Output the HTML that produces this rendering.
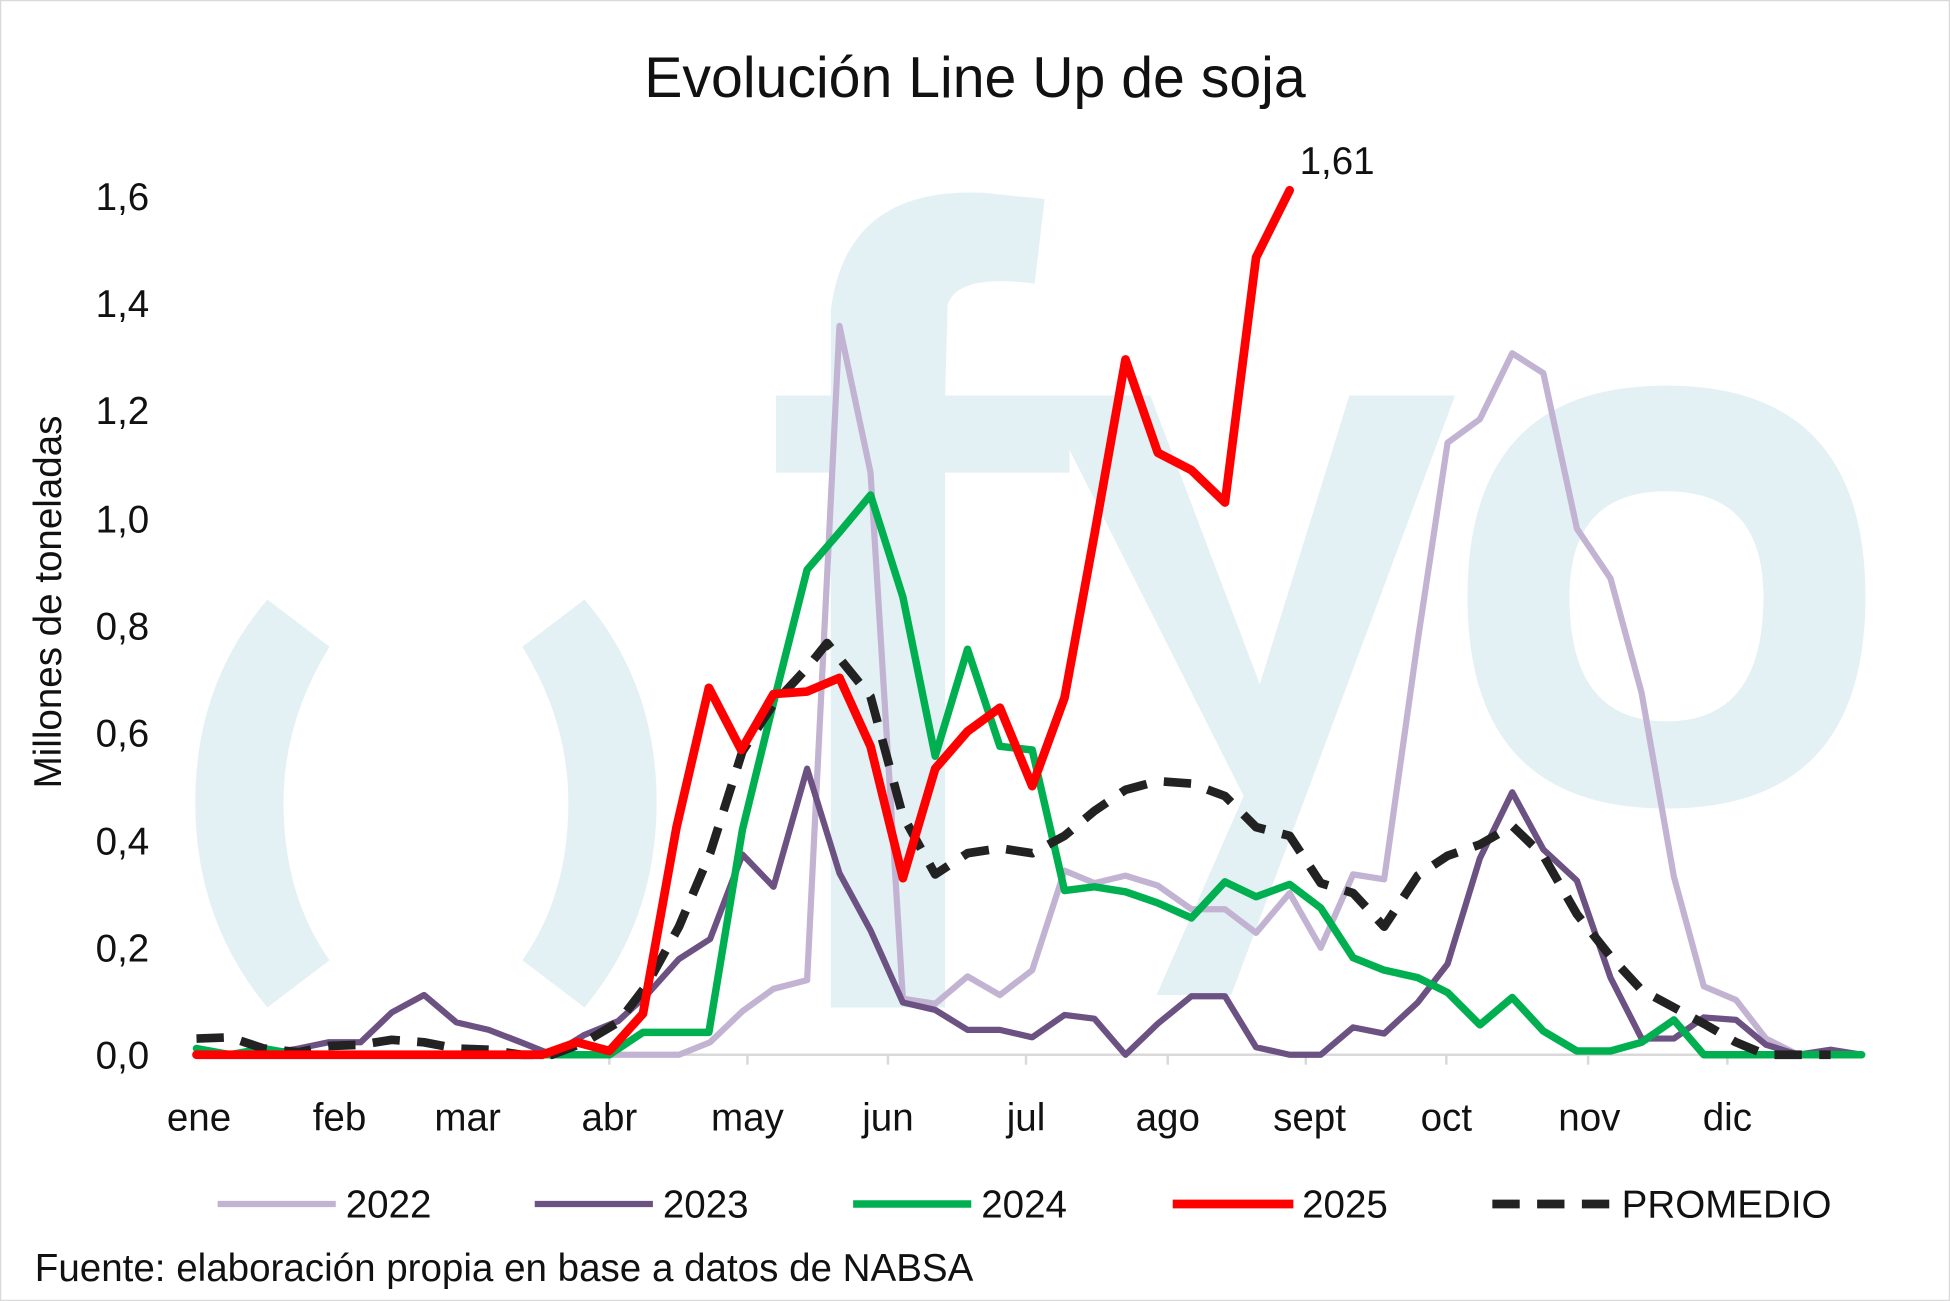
<!DOCTYPE html>
<html><head><meta charset="utf-8"><style>
html,body{margin:0;padding:0;background:#fff;}
svg{display:block;}
text{font-family:"Liberation Sans",sans-serif;}
</style></head><body>
<svg width="1950" height="1301" viewBox="0 0 1568 1046" preserveAspectRatio="none" xmlns="http://www.w3.org/2000/svg">
<rect x="0.5" y="0.5" width="1567" height="1045" fill="#fff" stroke="#d9d9d9"/>
<g fill="#e3f1f5" stroke="none">
<path d="M215,482 L265,520 Q228,580 228,645 Q228,720 265,772 L215,810 Q157,740 157,645 Q157,550 215,482 Z"/>
<path d="M470,482 L420,520 Q457,580 457,645 Q457,720 420,772 L470,810 Q528,740 528,645 Q528,550 470,482 Z"/>
<path d="M668,810 L668,380 L624,380 L624,318 L668,318 L668,250 Q680,150 790,155 L840,160 L832,228 Q770,220 762,245 L760,318 L860,318 L860,380 L760,380 L760,810 Z"/>
<path d="M838,318 L925,318 L1013,550 L1085,318 L1170,318 L1050,640 L990,800 L930,800 L1000,640 Z"/>
<path fill-rule="evenodd" d="M1340,310 Q1500,310 1500,480 Q1500,650 1340,650 Q1180,650 1180,480 Q1180,310 1340,310 Z M1340,395 Q1262,395 1262,480 Q1262,580 1340,580 Q1418,580 1418,480 Q1418,395 1340,395 Z"/>
</g>
<text x="784" y="78" font-size="46" text-anchor="middle" fill="#111">Evolución Line Up de soja</text>
<g font-size="31" fill="#111" text-anchor="end">
<text x="120" y="859">0,0</text><text x="120" y="773">0,2</text><text x="120" y="687">0,4</text><text x="120" y="600">0,6</text><text x="120" y="514">0,8</text><text x="120" y="428">1,0</text><text x="120" y="341">1,2</text><text x="120" y="255">1,4</text><text x="120" y="169">1,6</text>
</g>
<text transform="translate(49,484) rotate(-90)" font-size="31" text-anchor="middle" fill="#111">Millones de toneladas</text>
<line x1="158" y1="848" x2="1497" y2="848" stroke="#d9d9d9" stroke-width="2"/>
<g stroke="#d9d9d9" stroke-width="2">
<line x1="490" y1="848" x2="490" y2="856"/><line x1="601" y1="848" x2="601" y2="856"/><line x1="714" y1="848" x2="714" y2="856"/><line x1="825" y1="848" x2="825" y2="856"/><line x1="939" y1="848" x2="939" y2="856"/><line x1="1050" y1="848" x2="1050" y2="856"/><line x1="1163" y1="848" x2="1163" y2="856"/><line x1="1277" y1="848" x2="1277" y2="856"/><line x1="1389" y1="848" x2="1389" y2="856"/>
</g>
<g font-size="31" fill="#111" text-anchor="middle">
<text x="160" y="909">ene</text><text x="273" y="909">feb</text><text x="376" y="909">mar</text><text x="490" y="909">abr</text><text x="601" y="909">may</text><text x="714" y="909">jun</text><text x="825" y="909">jul</text><text x="939" y="909">ago</text><text x="1053" y="909">sept</text><text x="1163" y="909">oct</text><text x="1278" y="909">nov</text><text x="1389" y="909">dic</text>
</g>
<g fill="none" stroke-linejoin="round" stroke-linecap="round">
<polyline stroke="#c3b3d3" stroke-width="5" points="158,848 520,848 546,848 571,838 597,813 622,795 649,788 675,262 700,380 726,803 752,807 778,785 804,800 830,780 856,700 880,710 905,704 931,712 958,731 985,731 1010,750 1037,718 1062,762 1088,703 1113,707 1140,515 1164,356 1190,337 1216,284 1241,300 1268,425 1295,465 1320,557 1346,705 1370,793 1396,804 1420,835 1446,848 1497,848"/>
<polyline stroke="#6c5282" stroke-width="5" points="158,848 185,848 212,848 240,843 264,838 290,838 315,814 341,800 367,822 393,828 419,838 444,848 470,832 497,821 520,800 546,771 571,755 597,687 622,713 649,618 675,702 700,748 726,806 752,812 778,828 804,828 830,834 856,816 880,819 905,848 931,823 958,801 985,801 1010,842 1037,848 1062,848 1088,826 1113,831 1140,806 1164,775 1190,690 1216,637 1241,683 1268,708 1295,786 1320,835 1346,835 1370,818 1396,820 1420,840 1446,848 1472,844 1497,848"/>
<polyline stroke="#00b050" stroke-width="6" points="158,843 185,848 212,843 240,848 464,848 490,848 517,830 544,830 570,830 597,667 622,565 649,458 675,428 700,398 726,480 752,608 778,522 804,600 830,603 856,716 880,713 905,717 931,726 958,738 985,709 1010,721 1037,711 1062,730 1088,770 1113,780 1140,786 1164,798 1190,824 1216,802 1241,829 1268,845 1295,845 1320,838 1346,820 1370,848 1497,848"/>
<polyline stroke="#222" stroke-width="7" stroke-dasharray="22,14" stroke-linecap="butt" points="158,835 185,834 212,843 240,846 264,841 290,840 315,836 341,838 367,843 393,844 419,848 444,848 470,838 497,822 520,792 546,745 571,686 597,604 622,566 649,537 665,517 700,560 726,656 752,703 778,686 804,682 830,686 856,672 880,652 905,635 931,628 958,630 985,640 1010,665 1037,672 1062,710 1088,718 1113,745 1140,704 1164,688 1190,679 1216,664 1241,688 1268,735 1295,769 1320,796 1346,810 1370,823 1396,838 1420,848 1472,848"/>
<polyline stroke="#ff0000" stroke-width="7" points="158,848 436,848 464,838 490,845 517,815 544,665 570,553 596,603 622,558 649,556 675,545 700,600 726,706 752,618 778,588 804,569 830,632 856,561 880,430 905,289 931,364 958,378 985,404 1010,207 1037,153"/>
</g>
<text x="1045" y="140" font-size="31" fill="#111">1,61</text>
<g font-size="31" fill="#111">
<line x1="175" y1="968" x2="270" y2="968" stroke="#c3b3d3" stroke-width="5"/><text x="278" y="979">2022</text>
<line x1="430" y1="968" x2="525" y2="968" stroke="#6c5282" stroke-width="5"/><text x="533" y="979">2023</text>
<line x1="686" y1="968" x2="781" y2="968" stroke="#00b050" stroke-width="6"/><text x="789" y="979">2024</text>
<line x1="943" y1="968" x2="1040" y2="968" stroke="#ff0000" stroke-width="7"/><text x="1047" y="979">2025</text>
<line x1="1200" y1="968" x2="1296" y2="968" stroke="#222" stroke-width="7" stroke-dasharray="22,14"/><text x="1304" y="979">PROMEDIO</text>
</g>
<text x="28" y="1030" font-size="31" fill="#111">Fuente: elaboración propia en base a datos de NABSA</text>
</svg>
</body></html>
